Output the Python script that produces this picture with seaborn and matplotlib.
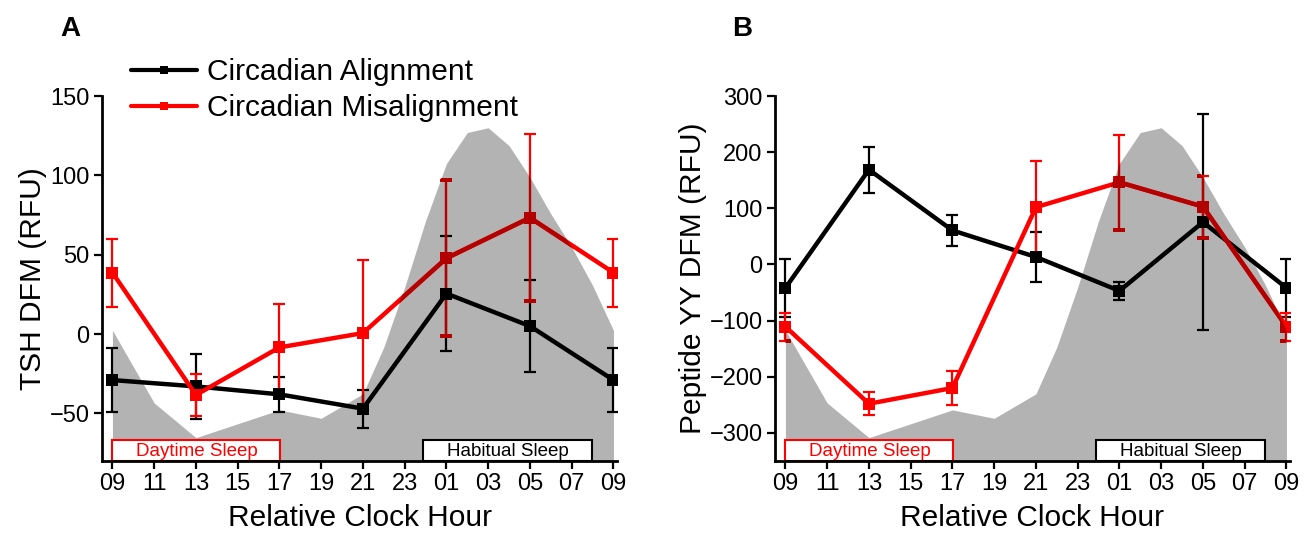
import numpy as np
import pandas as pd
import seaborn as sns
import matplotlib
matplotlib.use("Agg")
import matplotlib.pyplot as plt
from matplotlib.patches import Rectangle
from matplotlib.lines import Line2D

# ---------------- data ----------------
hours = [0, 4, 8, 12, 16, 20, 24]
tick_hours = list(range(0, 25, 2))
tick_labels = ["09", "11", "13", "15", "17", "19", "21", "23", "01", "03", "05", "07", "09"]

# melatonin (background) profile, as fraction of the axis height
mel_hours = [0, 2, 4, 8, 10, 12, 13, 14, 15, 16, 17, 18, 19, 20, 21, 22, 23, 24]
mel_level = [0.358, 0.159, 0.064, 0.140, 0.117, 0.184, 0.312, 0.476, 0.658,
             0.815, 0.900, 0.913, 0.864, 0.777, 0.677, 0.586, 0.481, 0.358]

tsh_align = [-29, -33, -38, -47, 25.5, 5, -29]
tsh_align_err = [20, 20.5, 11, 12, 36, 29, 20]
tsh_mis = [38.7, -38.4, -8.4, 0.6, 47.8, 73.3, 38.7]
tsh_mis_err = [21.5, 13.5, 27.5, 46, 49, 52.7, 21.5]

pyy_align = [-41.8, 168.8, 60.6, 13.3, -47, 75.4, -41.8]
pyy_align_err = [52, 41, 28, 44, 16, 192, 52]
pyy_mis = [-110.8, -248, -220, 102, 146.3, 103, -110.8]
pyy_mis_err = [25, 20, 31, 83, 85, 55, 25]

conditions = ["Circadian Alignment", "Circadian Misalignment"]
RED = "#ff0000"
DARKRED = "#b30000"
GRAY = "#b3b3b3"

sns.set_style("ticks")
plt.rcParams["font.family"] = ["Liberation Sans", "DejaVu Sans"]
plt.rcParams.update({"text.color": "black", "axes.labelcolor": "black",
                     "xtick.color": "black", "ytick.color": "black",
                     "axes.edgecolor": "black"})

fig = plt.figure(figsize=(13.05, 5.36), dpi=100)
W, H = 1305, 536
axA = fig.add_axes([102 / W, 75 / H, 515 / W, 365 / H])
axB = fig.add_axes([775 / W, 75 / H, 515 / W, 365 / H])


def panel(ax, align, align_err, mis, mis_err, ylim, yticks, ylabel):
    # background melatonin profile
    poly = ax.fill_between(mel_hours, 0, mel_level, transform=ax.get_xaxis_transform(),
                           color=GRAY, lw=0, zorder=0.5)
    # sleep boxes
    ax.add_patch(Rectangle((0, 0), 8.05, 0.058, transform=ax.get_xaxis_transform(),
                           facecolor="white", edgecolor=RED, lw=1.5, zorder=1, clip_on=False))
    ax.text(4.03, 0.027, "Daytime Sleep", color=RED, fontsize=13.5, ha="center", va="center",
            transform=ax.get_xaxis_transform(), zorder=1.1)
    ax.add_patch(Rectangle((14.9, 0), 8.05, 0.058, transform=ax.get_xaxis_transform(),
                           facecolor="white", edgecolor="black", lw=1.5, zorder=1, clip_on=False))
    ax.text(18.93, 0.027, "Habitual Sleep", color="black", fontsize=13.5, ha="center", va="center",
            transform=ax.get_xaxis_transform(), zorder=1.1)

    df = pd.DataFrame({
        "hour": hours * 2,
        "value": list(align) + list(mis),
        "condition": [conditions[0]] * len(hours) + [conditions[1]] * len(hours),
    })
    # error bars
    ax.errorbar(hours, align, yerr=align_err, fmt="none", ecolor="black", elinewidth=1.6,
                capsize=4.5, capthick=1.6, zorder=2)
    ax.errorbar(hours, mis, yerr=mis_err, fmt="none", ecolor=RED, elinewidth=1.6,
                capsize=4.5, capthick=1.6, zorder=2.5)
    sns.lineplot(data=df, x="hour", y="value", hue="condition", hue_order=conditions,
                 palette={conditions[0]: "black", conditions[1]: RED}, marker="s",
                 markersize=8.5, markeredgewidth=0, linewidth=3.2, errorbar=None,
                 legend=False, ax=ax, zorder=3)
    # darker red where the red series overlaps the grey profile
    path = poly.get_paths()[0]
    tr = poly.get_transform()
    eb = ax.errorbar(hours, mis, yerr=mis_err, fmt="none", ecolor=DARKRED, elinewidth=1.6,
                     capsize=4.5, capthick=1.6, zorder=2.6)
    for ch in eb.get_children():
        ch.set_clip_path(path, tr)
    ln, = ax.plot(hours, mis, color=DARKRED, lw=3.2, marker="s", ms=8.5, mew=0, zorder=3.5)
    ln.set_clip_path(path, tr)

    ax.set_xlim(-0.5, 24.17)
    ax.set_ylim(*ylim)
    ax.set_xticks(tick_hours)
    ax.set_xticklabels(tick_labels)
    ax.set_yticks(yticks)
    ax.tick_params(axis="both", labelsize=17, width=1.6, length=6, color="black",
                   labelcolor="black", pad=3)
    for s in ["top", "right"]:
        ax.spines[s].set_visible(False)
    for s in ["left", "bottom"]:
        ax.spines[s].set_linewidth(2)
        ax.spines[s].set_color("black")
    ax.set_xlabel("Relative Clock Hour", fontsize=21.5, labelpad=6, color="black")
    ax.set_ylabel(ylabel, fontsize=21.5, labelpad=2, color="black")
    ax.set_facecolor("white")


panel(axA, tsh_align, tsh_align_err, tsh_mis, tsh_mis_err, (-80, 150),
      [-50, 0, 50, 100, 150], "TSH DFM (RFU)")
panel(axB, pyy_align, pyy_align_err, pyy_mis, pyy_mis_err, (-350, 300),
      [-300, -200, -100, 0, 100, 200, 300], "Peptide YY DFM (RFU)")

handles = [Line2D([], [], color="black", lw=3, marker="s", ms=5.5, mew=0),
           Line2D([], [], color=RED, lw=3, marker="s", ms=5.5, mew=0)]
leg = axA.legend(handles, conditions, loc="upper left", bbox_to_anchor=(131 / W, 1 - 58 / H),
                 bbox_transform=fig.transFigure, frameon=False, fontsize=21.5, handlelength=2.2,
                 handletextpad=0.35, labelspacing=0.28, borderpad=0, borderaxespad=0)
for t in leg.get_texts():
    t.set_color("black")

fig.text(70 / W, 1 - 29 / H, "A", fontsize=20, fontweight="bold", ha="center", va="center",
         color="black")
fig.text(742 / W, 1 - 29 / H, "B", fontsize=20, fontweight="bold", ha="center", va="center",
         color="black")

fig.savefig("out.png", dpi=100, facecolor="white")
